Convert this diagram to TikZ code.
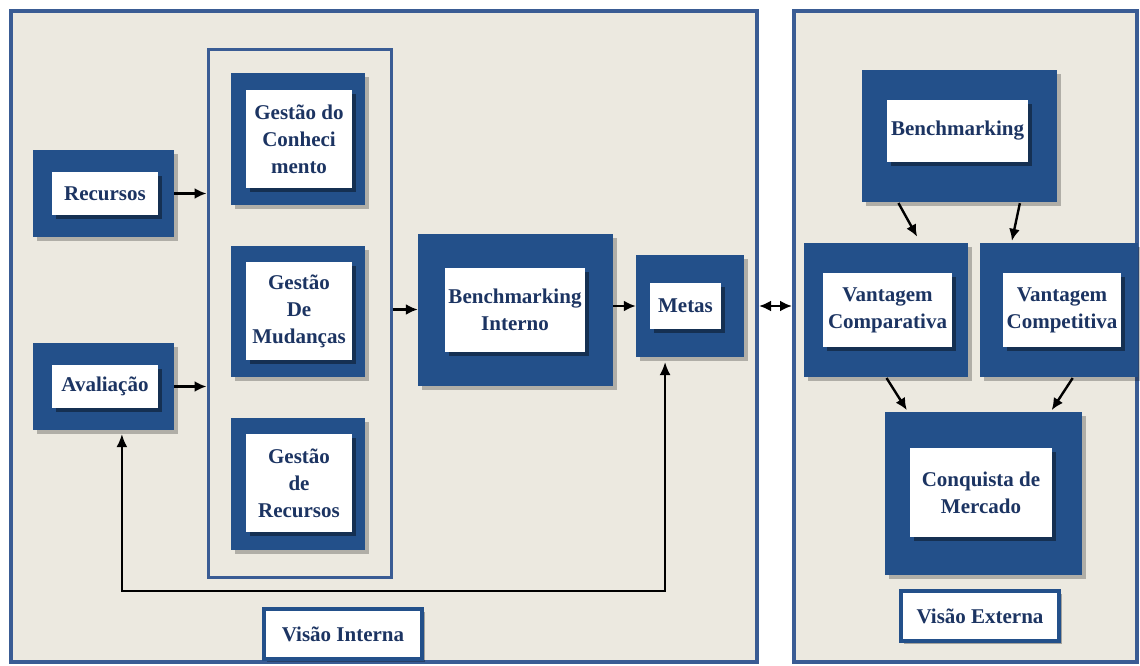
\documentclass[tikz,border=0pt]{standalone}
\usepackage{fontspec}
\setmainfont{Liberation Serif}
\usetikzlibrary{arrows.meta,shadows,calc}
\definecolor{bluefill}{RGB}{35,80,138}
\definecolor{navy}{RGB}{28,52,98}
\definecolor{beige}{RGB}{236,233,224}
\definecolor{panelblue}{RGB}{58,92,148}
\tikzset{
  outerbox/.style={fill=bluefill, draw=none, inner sep=0pt,
    drop shadow={shadow xshift=4pt, shadow yshift=-4pt, opacity=0.25, fill=black}},
  innerbox/.style={fill=white, draw=none, inner sep=0pt, align=center,
    font=\fontsize{21}{27}\selectfont\bfseries, text=navy,
    drop shadow={shadow xshift=4pt, shadow yshift=-4pt, opacity=0.4, fill=black}},
  panel/.style={draw=panelblue, line width=4pt, fill=beige, inner sep=0pt},
  groupbox/.style={draw=panelblue, line width=3pt, fill=beige, inner sep=0pt,
    drop shadow={shadow xshift=2pt, shadow yshift=-2pt, opacity=0.25, fill=black}},
  labelbox/.style={draw=bluefill, line width=4.5pt, fill=white, inner sep=0pt,
    font=\fontsize{21}{27}\selectfont\bfseries, text=navy,
    drop shadow={shadow xshift=3pt, shadow yshift=-3pt, opacity=0.3, fill=black}},
  conn/.style={-{Latex[length=12pt,width=11pt]}, line width=2.4pt, black},
  dconn/.style={{Latex[length=12pt,width=11pt]}-{Latex[length=12pt,width=11pt]}, line width=2.4pt, black},
  fbconn/.style={{Latex[length=13pt,width=11pt]}-{Latex[length=13pt,width=11pt]}, line width=1.7pt, black},
}
\begin{document}
\begin{tikzpicture}[x=1pt,y=-1pt]
\useasboundingbox (0,0) rectangle (1140,666);
\fill[white] (0,0) rectangle (1140,666);

% panels
\node[panel, minimum width=746pt, minimum height=651pt] (lp) at (384,336.5) {};
\node[panel, minimum width=343pt, minimum height=651pt] (rp) at (965.5,336.5) {};

% group container
\node[groupbox, minimum width=183pt, minimum height=527pt] (grp) at (299.5,313.5) {};

% left blocks
\node[outerbox, minimum width=141pt, minimum height=87pt] (rec) at (103.5,193.5) {};
\node[innerbox, minimum width=106pt, minimum height=43pt] (recT) at (105,193.5) {Recursos};
\node[outerbox, minimum width=141pt, minimum height=87pt] (av) at (103.5,386.5) {};
\node[innerbox, minimum width=106pt, minimum height=43pt] (avT) at (105,386.5) {Avaliação};

\node[outerbox, minimum width=134pt, minimum height=132pt] (gc) at (298,139) {};
\node[innerbox, minimum width=106pt, minimum height=98pt] (gcT) at (299,139) {Gestão do\\Conheci\\mento};
\node[outerbox, minimum width=134pt, minimum height=131pt] (gm) at (298,311.5) {};
\node[innerbox, minimum width=106pt, minimum height=98pt] (gmT) at (299,311) {Gestão\\De\\Mudanças};
\node[outerbox, minimum width=134pt, minimum height=132pt] (gr) at (298,484) {};
\node[innerbox, minimum width=106pt, minimum height=98pt] (grT) at (299,483) {Gestão\\de\\Recursos};

\node[outerbox, minimum width=195pt, minimum height=152pt] (bi) at (515.5,309.5) {};
\node[innerbox, minimum width=140pt, minimum height=84pt] (biT) at (515,310) {Benchmarking\\Interno};
\node[outerbox, minimum width=108pt, minimum height=102pt] (metas) at (690,306) {};
\node[innerbox, minimum width=71pt, minimum height=46pt] (metasT) at (685.5,306) {Metas};

\node[labelbox, minimum width=158pt, minimum height=50pt] (vi) at (343,634) {Visão Interna};

% right blocks
\node[outerbox, minimum width=195pt, minimum height=132pt] (bench) at (959.5,136) {};
\node[innerbox, minimum width=141pt, minimum height=62pt] (benchT) at (957.5,131) {Benchmarking};
\node[outerbox, minimum width=164pt, minimum height=134pt] (vcmp) at (886,310) {};
\node[innerbox, minimum width=129pt, minimum height=74pt] (vcmpT) at (887.5,310) {Vantagem\\Comparativa};
\node[outerbox, minimum width=158pt, minimum height=134pt] (vcpt) at (1059,310) {};
\node[innerbox, minimum width=118pt, minimum height=74pt] (vcptT) at (1062,310) {Vantagem\\Competitiva};
\node[outerbox, minimum width=197pt, minimum height=163pt] (cm) at (983.5,493.5) {};
\node[innerbox, minimum width=142pt, minimum height=89pt] (cmT) at (981,492.5) {Conquista de\\Mercado};

\node[labelbox, minimum width=158pt, minimum height=50pt] (ve) at (980,616) {Visão Externa};

% connectors left
\draw[conn] (rec.east) -- (rec.east -| grp.west);
\draw[conn] (av.east) -- (av.east -| grp.west);
\draw[conn] (grp.east |- bi.west) -- (bi.west);
\draw[conn] (bi.east |- metas.west) -- (metas.west);
\draw[dconn] (lp.east |- metas.east) -- (rp.west |- metas.east);

\coordinate (m1) at ($(metas.south west)!0.27!(metas.south east)$);
\coordinate (a1) at ($(av.south west)!0.63!(av.south east)$);
\coordinate (fb) at (0,591);
\draw[fbconn, shorten <=5pt, shorten >=4pt] (m1) -- (m1 |- fb) -- (a1 |- fb) -- (a1);

% connectors right
\draw[conn, shorten <=1pt, shorten >=7pt] ($(bench.south west)!0.185!(bench.south east)$) -- ($(vcmp.north west)!0.71!(vcmp.north east)$);
\draw[conn, shorten <=1pt, shorten >=2pt] ($(bench.south west)!0.81!(bench.south east)$) -- ($(vcpt.north west)!0.2!(vcpt.north east)$);
\draw[conn, shorten <=1pt, shorten >=2pt] ($(vcmp.south west)!0.5!(vcmp.south east)$) -- ($(cm.north west)!0.117!(cm.north east)$);
\draw[conn, shorten <=1pt, shorten >=2pt] ($(vcpt.south west)!0.59!(vcpt.south east)$) -- ($(cm.north west)!0.84!(cm.north east)$);
\end{tikzpicture}
\end{document}
